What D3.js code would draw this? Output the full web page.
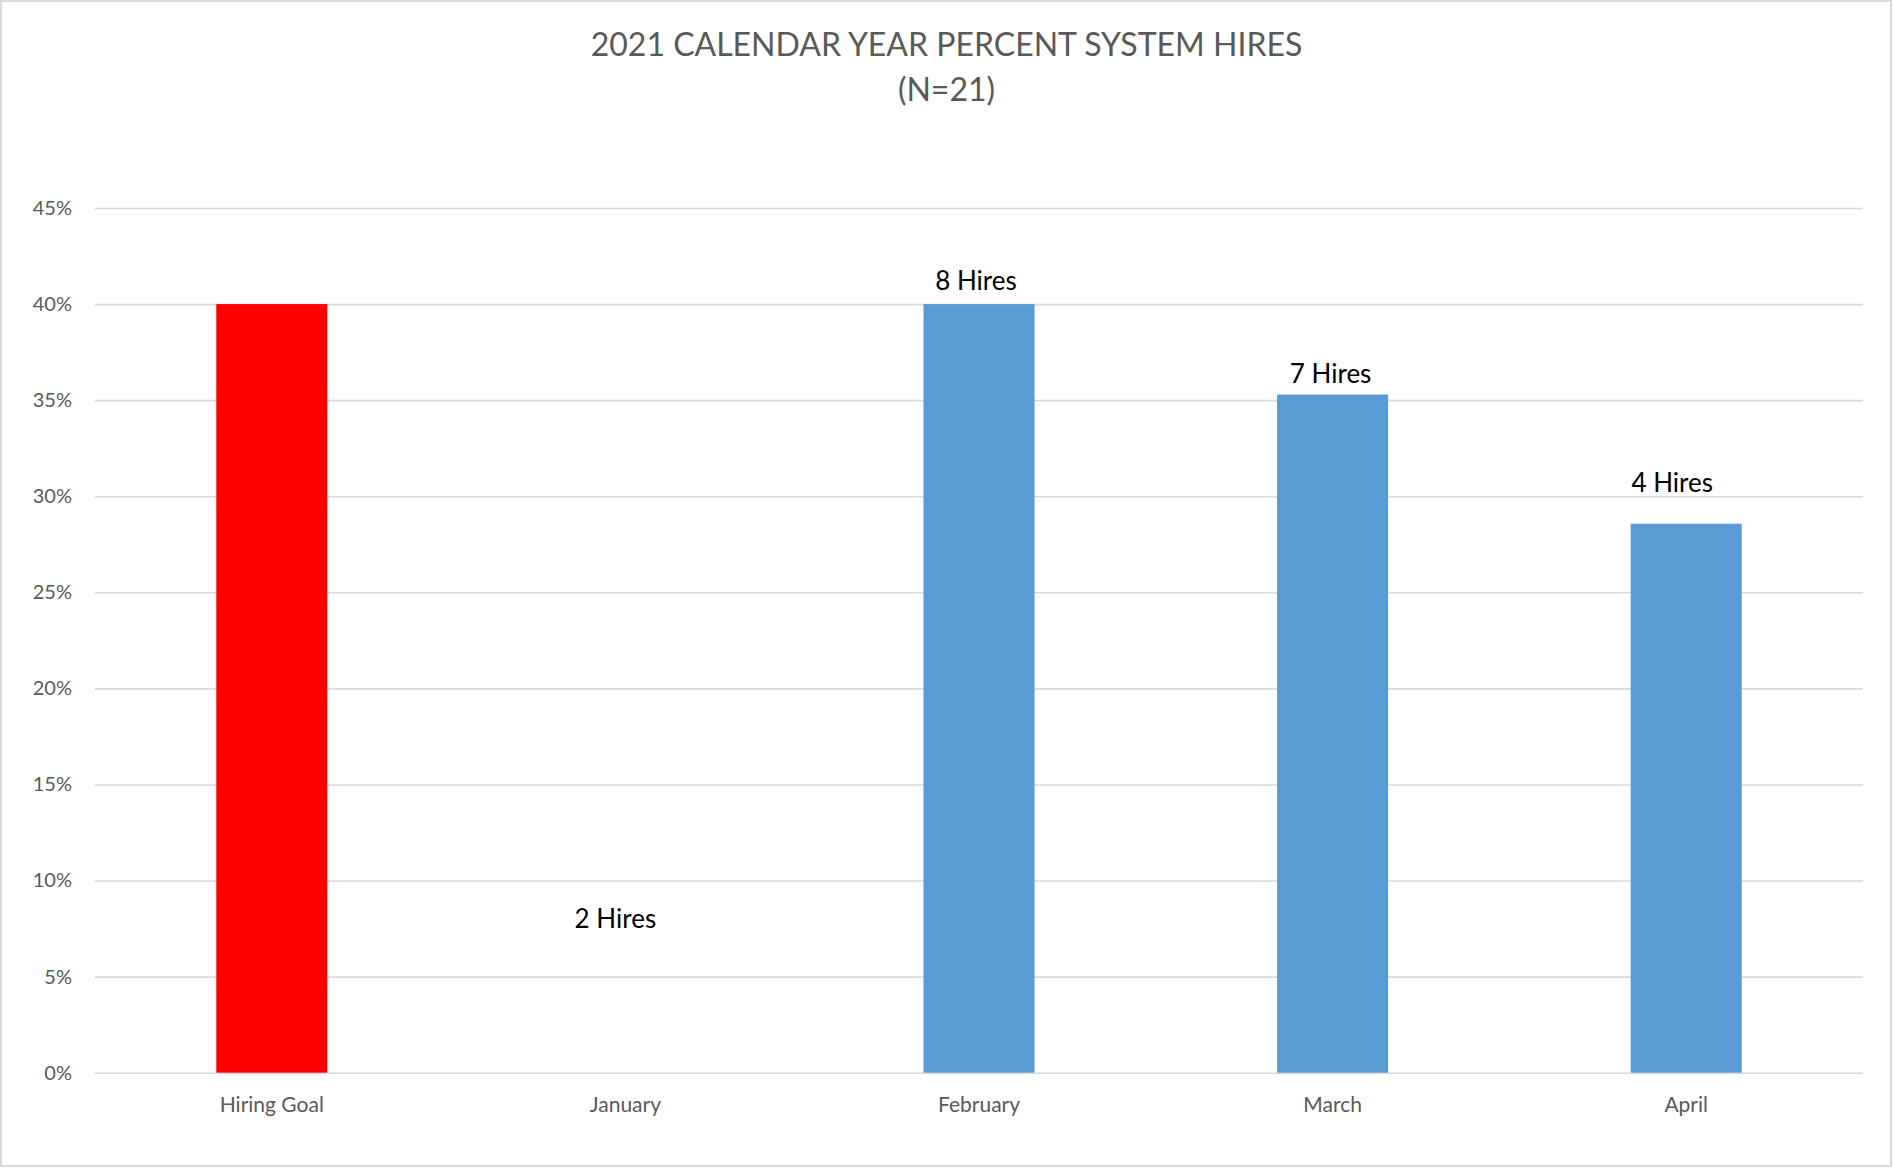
<!DOCTYPE html>
<html>
<head>
<meta charset="utf-8">
<script src="https://cdn.jsdelivr.net/npm/d3@7/dist/d3.min.js"></script>
<style>
  html, body { margin: 0; padding: 0; background: #ffffff; }
  svg { display: block; }
  text { font-family: Lato, "Open Sans", sans-serif; }
</style>
</head>
<body>
<svg id="chart" width="1894" height="1168"></svg>
<script>
// Chart data
const categories = ["Hiring Goal", "January", "February", "March", "April"];
const percentHired = [0.40, 0.0, 0.40, 0.3529, 0.2857];
const hireLabels = ["", "2 Hires", "8 Hires", "7 Hires", "4 Hires"];
const barColors = ["#ff0000", "#5b9bd5", "#5b9bd5", "#5b9bd5", "#5b9bd5"];
const yTicks = [0, 0.05, 0.10, 0.15, 0.20, 0.25, 0.30, 0.35, 0.40, 0.45];
const titleLines = ["2021 CALENDAR YEAR PERCENT SYSTEM HIRES", "(N=21)"];

const W = 1894, H = 1168;
const plot = { left: 95, right: 1863, top: 208, bottom: 1072.7 };

const svg = d3.select("#chart");

// outer chart border
svg.append("rect")
  .attr("x", 1).attr("y", 1)
  .attr("width", 1890).attr("height", 1165)
  .attr("fill", "#ffffff")
  .attr("stroke", "#d9d9d9")
  .attr("stroke-width", 2);

const x = d3.scaleBand()
  .domain(categories)
  .range([plot.left, plot.right])
  .paddingInner(0.686)
  .paddingOuter(0.343);

const y = d3.scaleLinear()
  .domain([0, 0.45])
  .range([plot.bottom, plot.top]);

// horizontal gridlines + percent labels
const yAxis = d3.axisLeft(y)
  .tickValues(yTicks)
  .tickFormat(d3.format(".0%"))
  .tickSize(-(plot.right - plot.left))
  .tickPadding(23);

const gy = svg.append("g")
  .attr("transform", `translate(${plot.left},0)`)
  .call(yAxis);
gy.select(".domain").remove();
gy.selectAll(".tick line")
  .attr("stroke", "#d9d9d9")
  .attr("stroke-width", 1.6);
gy.selectAll(".tick text")
  .attr("fill", "#595959")
  .style("font-size", "20px")
  .style("font-family", "Lato, 'Open Sans', sans-serif");

// category labels
const xAxis = d3.axisBottom(x).tickSize(0).tickPadding(24);
const gx = svg.append("g")
  .attr("transform", `translate(0,${plot.bottom})`)
  .call(xAxis);
gx.select(".domain").remove();
gx.selectAll(".tick text")
  .attr("fill", "#595959")
  .style("font-size", "21px")
  .style("font-family", "Lato, 'Open Sans', sans-serif");

const rows = categories.map((c, i) => ({
  cat: c, value: percentHired[i], label: hireLabels[i], color: barColors[i]
}));

// bars
svg.append("g").selectAll("rect")
  .data(rows)
  .join("rect")
  .attr("x", d => x(d.cat))
  .attr("y", d => y(d.value))
  .attr("width", x.bandwidth())
  .attr("height", d => y(0) - y(d.value))
  .attr("fill", d => d.color);

// hand-placed label offsets (dx px, dy px) relative to the default spot above each bar
const labelNudge = {
  "January": { dx: -10, dy: -130 },
  "February": { dx: -3, dy: 1 },
  "March": { dx: -2, dy: 3 },
  "April": { dx: -14, dy: -17 }
};

svg.append("g").selectAll("text")
  .data(rows.filter(d => d.label))
  .join("text")
  .attr("x", d => x(d.cat) + x.bandwidth() / 2 + (labelNudge[d.cat] ? labelNudge[d.cat].dx : 0))
  .attr("y", d => y(d.value) - 15 + (labelNudge[d.cat] ? labelNudge[d.cat].dy : 0))
  .attr("text-anchor", "middle")
  .attr("fill", "#000000")
  .style("font-size", "26px")
  .text(d => d.label);

// title
svg.append("g").selectAll("text")
  .data(titleLines)
  .join("text")
  .attr("x", W / 2 - 0.5)
  .attr("y", (d, i) => 56 + i * 45)
  .attr("text-anchor", "middle")
  .attr("fill", "#595959")
  .style("font-size", "32px")
  .text(d => d);
</script>
</body>
</html>
